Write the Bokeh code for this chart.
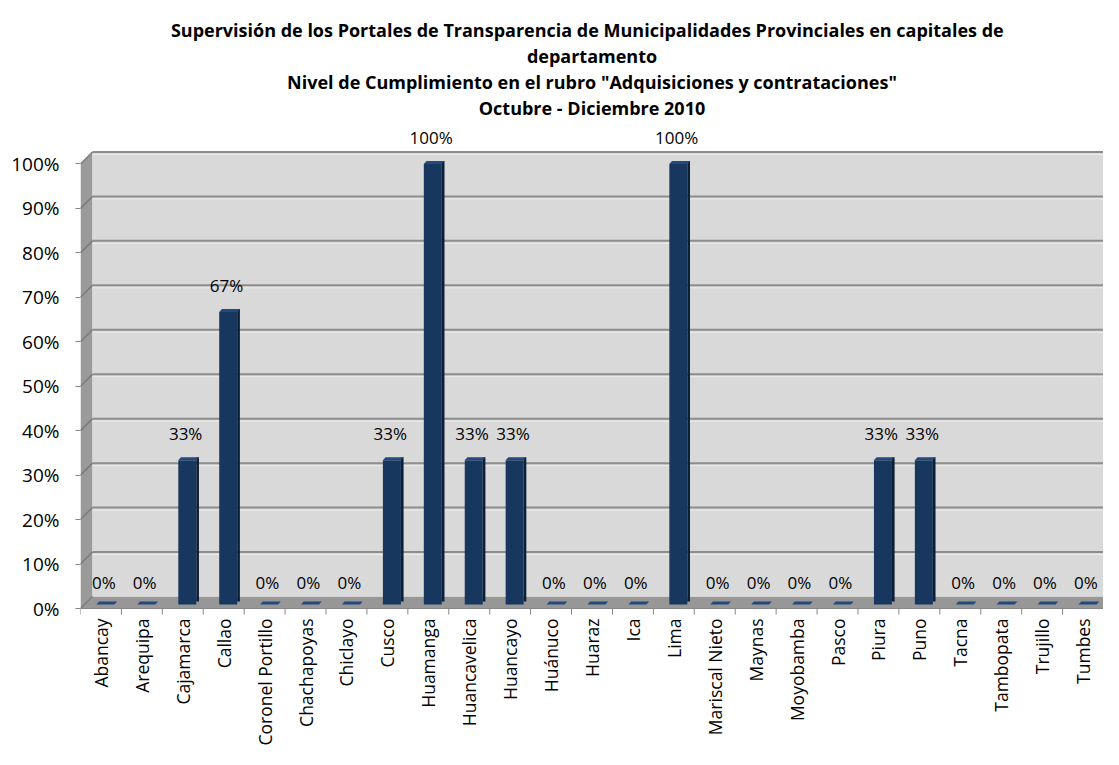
import math
from bokeh.plotting import figure
from bokeh.models import Range1d, FixedTicker, ColumnDataSource, Title
from bokeh.core.properties import value
from bokeh.embed import file_html
from bokeh.resources import INLINE

title_lines = [
    "Supervisión de los Portales de Transparencia de Municipalidades  Provinciales  en capitales de",
    "departamento",
    'Nivel de Cumplimiento en el rubro "Adquisiciones y contrataciones"',
    "Octubre - Diciembre 2010",
]
cities = ["Abancay", "Arequipa", "Cajamarca", "Callao", "Coronel Portillo", "Chachapoyas",
          "Chiclayo", "Cusco", "Huamanga", "Huancavelica", "Huancayo", "Huánuco", "Huaraz",
          "Ica", "Lima", "Mariscal Nieto", "Maynas", "Moyobamba", "Pasco", "Piura", "Puno",
          "Tacna", "Tambopata", "Trujillo", "Tumbes"]
compliance = [0, 0, 0.3333, 0.6667, 0, 0, 0, 0.3333, 1.0, 0.3333, 0.3333, 0, 0, 0, 1.0,
              0, 0, 0, 0, 0.3333, 0.3333, 0, 0, 0, 0]
value_labels = ["0%", "0%", "33%", "67%", "0%", "0%", "0%", "33%", "100%", "33%", "33%", "0%",
                "0%", "0%", "100%", "0%", "0%", "0%", "0%", "33%", "33%", "0%", "0%", "0%", "0%"]
y_ticks = [i / 10 for i in range(11)]
y_tick_labels = ["0%", "10%", "20%", "30%", "40%", "50%", "60%", "70%", "80%", "90%", "100%"]

FONT = "Open Sans"
n = len(cities)
W, H = 1103, 749
TOP, LEFT, ZERO = 119, 80, 608          # frame top, frame left, pixel row of 0%
PX_PER_UNIT = (ZERO - TOP) / 1.1
y_min = -(H - ZERO) / PX_PER_UNIT

p = figure(width=W, height=H, x_range=Range1d(0, n), y_range=Range1d(y_min, 1.1),
           output_backend="svg", toolbar_location=None,
           min_border_left=LEFT, min_border_right=0, min_border_bottom=0, min_border_top=TOP)
p.outline_line_color = None
p.background_fill_color = "white"
p.xgrid.visible = False
p.ygrid.visible = False
p.xaxis.visible = False

# titles: p.title is outermost, added ones go outward from the frame
p.title.text = title_lines[0]
titles = [p.title]
for line in [title_lines[3], title_lines[2], title_lines[1]]:
    t = Title(text=line)
    p.add_layout(t, "above")
    titles.append(t)
for t in titles:
    t.align = "center"
    t.text_font = FONT
    t.text_font_size = "18px"
    t.text_font_style = "bold"
    t.text_color = "black"
    t.standoff = 0
    t.offset = 0

# 3D walls
bw_px = (W - LEFT) / n
dx = 12 / bw_px
dy = 12 / PX_PER_UNIT
p.patch([0, dx, dx, 0], [0, dy, 1 + dy, 1], fill_color="#9a9a9a", line_color=None)
p.patch([0, n, n, dx], [0, 0, dy, dy], fill_color="#979797", line_color=None)
p.quad(left=[dx], right=[n], bottom=[dy], top=[1 + dy], fill_color="#d9d9d9", line_color=None)
gy = [t + dy for t in y_ticks[1:]]
p.segment(x0=[dx] * len(gy), x1=[n] * len(gy), y0=gy, y1=gy, line_color="#8d8d8d", line_width=2)
hl = 2.5 / PX_PER_UNIT
p.segment(x0=[dx] * len(gy), x1=[n] * len(gy), y0=[g - hl for g in gy], y1=[g - hl for g in gy],
          line_color="#ececec", line_width=1)
p.segment(x0=[0] * len(y_ticks), x1=[dx] * len(y_ticks), y0=y_ticks, y1=[t + dy for t in y_ticks],
          line_color="#7a7a7a", line_width=1.5)

# category axis drawn by hand
tick_len = 6 / PX_PER_UNIT
p.segment(x0=[0], x1=[n], y0=[0], y1=[0], line_color="#868686", line_width=1)
p.segment(x0=list(range(n + 1)), x1=list(range(n + 1)), y0=[0] * (n + 1), y1=[-tick_len] * (n + 1),
          line_color="#868686", line_width=1)
centers = [i + 0.5 for i in range(n)]
p.text(x=centers, y=[0] * n, text=cities, angle=math.pi / 2, text_align="right",
       text_baseline="middle", y_offset=10, text_font=value(FONT), text_font_size="17.5px",
       text_color="black")

# bars
bc = [c + 0.11 for c in centers]
bw = 0.44
side = 0.065
base = 4 / PX_PER_UNIT
cap = 3 / PX_PER_UNIT
fronts = [max(v, base) for v in compliance]
src = ColumnDataSource(dict(x=bc, top=fronts, v=compliance))
p.vbar(x="x", top="top", bottom=base, width=bw, source=src, fill_color="#17375e", line_color=None)
p.quad(left=[c + bw / 2 for c in bc], right=[c + bw / 2 + side for c in bc],
       bottom=[base + cap] * n, top=[f + cap for f in fronts], fill_color="#0c1f38", line_color=None)
xs = [[c - bw / 2, c + bw / 2, c + bw / 2 + side, c - bw / 2 + side] for c in bc]
ys = [[f, f, f + cap, f + cap] for f in fronts]
p.patches(xs, ys, fill_color="#24497a", line_color=None)

# value labels
p.text(x=[c + 0.07 for c in centers], y=compliance, text=value_labels, text_align="center",
       text_baseline="bottom", y_offset=-15, text_font=value(FONT), text_font_size="17px",
       text_color="black")

ya = p.yaxis[0]
ya.ticker = FixedTicker(ticks=y_ticks, minor_ticks=[])
ya.major_label_overrides = {t: s for t, s in zip(y_ticks, y_tick_labels)}
ya.axis_line_color = None
ya.major_tick_out = 5
ya.major_tick_in = 0
ya.major_tick_line_color = "#868686"
ya.major_label_standoff = 16
ya.major_label_text_font = FONT
ya.major_label_text_font_size = "19px"
ya.major_label_text_color = "black"

open("out.html", "w").write(file_html(p, INLINE))
